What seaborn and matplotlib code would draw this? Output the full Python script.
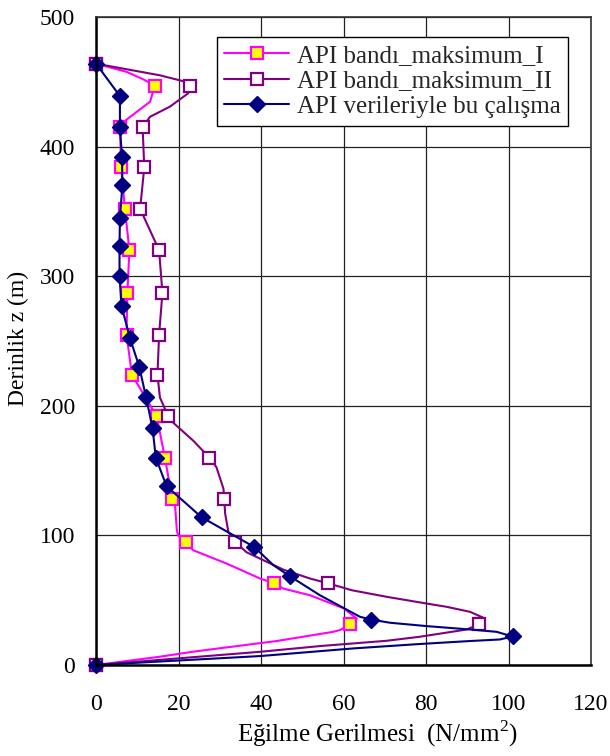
import matplotlib
matplotlib.use("Agg")
import matplotlib.pyplot as plt
import seaborn as sns
import pandas as pd

# series I: API bandi maksimum I (path, flag = marker drawn)
depth_I = [464, 457.7, 452, 447, 434.6, 420.8, 415, 384, 352, 320, 287, 255, 224, 192, 160,
           128, 121.8, 104, 100, 95, 88.5, 78.2, 66.7, 63, 59, 53.8, 43.8, 35.9, 31.5, 27,
           25.6, 18.5, 10.3, 6.4, 0]
stress_I = [0, 7.4, 11.4, 14.3, 13.1, 7.4, 5.8, 6.1, 7.0, 8.1, 7.6, 7.4, 8.7, 14.7, 16.7,
            18.5, 19.2, 19.6, 19.9, 21.7, 23.6, 31.7, 39.8, 43.2, 45.4, 51.9, 60.0, 63.2, 61.6, 59.2,
            57.5, 43.8, 23.6, 15.5, 0]
mark_I = [1, 0, 0, 1, 0, 0, 1, 1, 1, 1, 1, 1, 1, 1, 1,
          1, 0, 0, 0, 1, 0, 0, 0, 1, 0, 0, 0, 0, 1, 0,
          0, 0, 0, 0, 1]

# series II: API bandi maksimum II
depth_II = [464, 455, 450.5, 447, 441, 430.8, 423, 415, 384, 352, 320, 287, 255, 224, 206.4,
            192, 187, 173, 160, 152.6, 136, 128, 117, 102.5, 95, 87, 73.6, 66.7, 63, 57.7,
            52.6, 47.4, 44.9, 41, 35.9, 31.5, 27.4, 21.8, 18.7, 14.6, 10.2, 0]
stress_II = [0, 15.5, 21.1, 22.8, 22.3, 17.9, 13.1, 11.3, 11.7, 10.7, 15.3, 16.1, 15.3, 14.9, 15.5,
             17.5, 18.7, 23.6, 27.5, 29.2, 30.9, 31.1, 31.3, 32.1, 33.7, 36.5, 45.4, 51.9, 56.3, 62.0,
             70.5, 80.2, 85.0, 90.7, 94.3, 92.9, 89.9, 78.5, 70.5, 54.3, 39.8, 0]
mark_II = [1, 0, 0, 1, 0, 0, 0, 1, 1, 1, 1, 1, 1, 1, 0,
           1, 0, 0, 1, 0, 0, 1, 0, 0, 1, 0, 0, 0, 1, 0,
           0, 0, 0, 0, 0, 1, 0, 0, 0, 0, 0, 1]

# series III: API verileriyle bu calisma
depth_III = [464, 439, 415, 392, 370, 345, 323, 300, 277, 252.5, 230, 207, 183, 160, 138,
             114, 91, 77, 68.5, 53.8, 37.2, 35.1, 32.6, 30, 27.4, 25.6, 22, 19.7, 18.5, 16.2,
             12.8, 6.9, 0]
stress_III = [0, 5.8, 5.8, 6.3, 6.4, 5.8, 5.7, 5.7, 6.2, 8.2, 10.5, 12.1, 13.7, 14.5, 17.1,
              25.6, 38.4, 43.0, 47.0, 54.3, 64.0, 66.6, 71.3, 80.2, 90.7, 97.1, 101.0, 97.9, 90.7, 78.5,
              62.4, 39.8, 0]
mark_III = [1, 1, 1, 1, 1, 1, 1, 1, 1, 1, 1, 1, 1, 1, 1,
            1, 1, 0, 1, 0, 0, 1, 0, 0, 0, 0, 1, 0, 0, 0,
            0, 0, 1]

labels = ["API bandı_maksimum_I", "API bandı_maksimum_II", "API verileriyle bu çalışma"]

sns.set_theme(style="white")
plt.rcParams['font.family'] = ['Liberation Serif', 'DejaVu Serif']
plt.rcParams['mathtext.fontset'] = 'custom'
plt.rcParams['mathtext.rm'] = 'Liberation Serif'

fig = plt.figure(figsize=(6.1, 7.56), dpi=100, facecolor='white')
ax = fig.add_axes([96 / 610, 1 - 665 / 756, 495 / 610, 648 / 756])

styles = [
    dict(color='#FF00FF', marker='s', markersize=8.5, markerfacecolor='#FFFF00',
         markeredgecolor='#FF00FF', markeredgewidth=1.6),
    dict(color='#800080', marker='s', markersize=8.5, markerfacecolor='white',
         markeredgecolor='#800080', markeredgewidth=1.6),
    dict(color='#000080', marker='D', markersize=8, markerfacecolor='#000080',
         markeredgecolor='#000080', markeredgewidth=1),
]
series = [(depth_I, stress_I, mark_I), (depth_II, stress_II, mark_II),
          (depth_III, stress_III, mark_III)]

for (d, s, m), lab, st in zip(series, labels, styles):
    df = pd.DataFrame({'stress': s, 'depth': d})
    every = [i for i, f in enumerate(m) if f]
    sns.lineplot(data=df, x='stress', y='depth', sort=False, estimator=None,
                 linewidth=1.5, markevery=every, label=lab, ax=ax, clip_on=False, **st)

ax.set_xlim(0, 120)
ax.set_ylim(0, 500)
ax.set_xticks(range(0, 121, 20))
ax.set_yticks(range(0, 501, 100))
ax.grid(True, color='#222222', linewidth=0.9)
ax.set_axisbelow(True)
ax.tick_params(axis='x', length=0, pad=21, labelsize=17, colors='black')
ax.tick_params(axis='y', length=0, pad=15, labelsize=17, colors='black')
for side in ['left', 'bottom']:
    ax.spines[side].set_color('black')
    ax.spines[side].set_linewidth(1.8)
for side in ['top', 'right']:
    ax.spines[side].set_color('#333333')
    ax.spines[side].set_linewidth(1.2)

ax.set_xlabel('Eğilme Gerilmesi  (N/mm$^2$)', fontsize=18, color='black')
ax.xaxis.set_label_coords((377 - 96) / 495, -0.083)
ax.set_ylabel('Derinlik z (m)', fontsize=17, color='black')
ax.yaxis.set_label_coords(-(96 - 29) / 495, 0.504)

leg = ax.legend(loc='upper right', bbox_to_anchor=(568 / 610, 1 - 37 / 756),
                bbox_transform=fig.transFigure, fontsize=18, frameon=True, fancybox=False,
                edgecolor='black', framealpha=1, handlelength=2.6, handletextpad=0.3,
                labelspacing=0.12, borderpad=0.3, borderaxespad=0)
leg.get_frame().set_linewidth(1.0)

fig.savefig('out.png', dpi=100, facecolor='white')
